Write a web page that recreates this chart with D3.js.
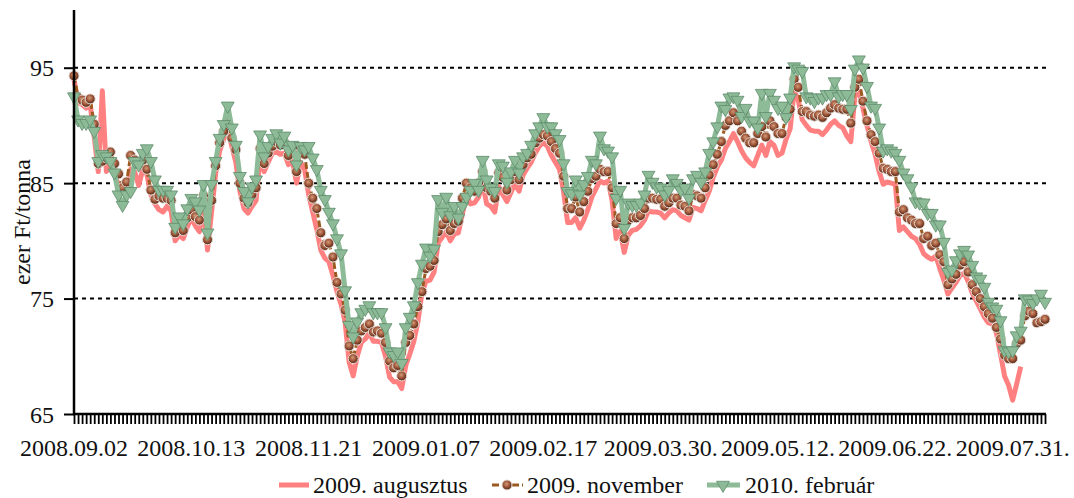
<!DOCTYPE html>
<html>
<head>
<meta charset="utf-8">
<script src="https://cdn.jsdelivr.net/npm/d3@7/dist/d3.min.js"></script>
<style>
  html, body { margin: 0; padding: 0; background: #fff; }
  svg { display: block; }
</style>
</head>
<body>
<svg id="chart" width="1074" height="498"></svg>
<script>
// ---- DATA ----
const tickLabels = ["2008.09.02", "2008.10.13", "2008.11.21", "2009.01.07", "2009.02.17",
                    "2009.03.30.", "2009.05.12.", "2009.06.22.", "2009.07.31."];
const labelEvery = 29;
const yTicks = [65, 75, 85, 95];
const seriesNames = ["2009. augusztus", "2009. november", "2010. február"];

const aug2009 = [
  94.0, 92.0, 91.8, 91.5, 91.8, 89.0, 86.0, 93.0, 86.0, 86.8,
  85.8, 84.8, 84.2, 84.5, 86.2, 86.0, 84.8, 86.2, 85.8, 84.0,
  83.2, 82.7, 82.5, 83.0, 82.6, 80.0, 80.5, 80.2, 81.2, 82.0,
  81.3, 80.8, 83.0, 79.2, 82.5, 85.8, 87.8, 88.8, 89.6, 88.2,
  86.8, 84.3, 82.8, 82.4, 83.0, 83.5, 87.3, 86.0, 86.8, 87.6,
  87.7, 87.5, 87.6, 86.6, 86.9, 85.0, 86.8, 86.2, 84.0, 82.5,
  81.0, 79.2, 78.5, 78.2, 77.0, 75.6, 74.5, 73.0, 69.5, 68.3,
  70.0, 71.2, 71.5, 72.0, 71.3, 71.3, 71.2, 70.0, 68.2, 67.8,
  67.8, 67.2, 69.2, 70.2, 71.3, 73.0, 75.5, 76.5, 76.6, 77.3,
  79.8, 80.3, 80.8, 80.0, 80.6, 80.7, 82.3, 84.0, 83.2, 83.3,
  83.8, 85.0, 83.2, 83.0, 82.5, 84.7, 84.0, 83.4, 84.2, 85.0,
  84.3, 85.7, 86.3, 86.8, 87.6, 88.2, 88.5, 88.2, 87.4, 86.8,
  86.2, 84.3, 81.6, 81.6, 82.0, 81.1, 81.8, 82.7, 83.8, 84.5,
  85.2, 85.0, 85.2, 83.5, 80.2, 80.8, 79.0, 80.5, 80.9, 81.0,
  81.3, 81.8, 82.6, 82.5, 82.5, 82.4, 82.0, 82.4, 82.7, 82.6,
  82.2, 82.0, 81.8, 82.9, 82.8, 82.6, 83.5, 84.3, 85.5, 86.4,
  87.0, 88.0, 88.6, 89.3, 88.6, 87.8, 87.2, 86.8, 86.5, 87.4,
  88.3, 87.4, 88.6, 88.3, 87.4, 87.6, 88.8, 89.7, 93.0, 92.2,
  90.5, 90.0, 89.6, 89.5, 89.5, 89.2, 89.6, 90.1, 90.4, 90.0,
  89.8, 89.1, 88.6, 92.5, 93.0, 91.5, 90.0, 88.6, 87.5, 86.0,
  84.9, 85.1, 85.0, 84.9, 80.9, 81.2, 80.8, 80.4, 80.2, 79.7,
  78.9, 78.6, 78.4, 78.7, 77.6, 76.6, 75.4, 75.9, 76.4, 77.0,
  77.2, 76.5, 75.5, 74.8, 74.1, 73.4, 72.9, 72.8, 72.0, 70.2,
  68.3, 67.5, 66.2, 67.6, 69.1, null, null, null, null, null, null
];

const nov2009 = [
  94.3, 92.4, 92.2, 92.0, 92.3, 90.1, 86.7, 86.9, 87.2, 87.7,
  86.7, 85.8, 84.6, 85.1, 87.4, 87.0, 86.6, 87.0, 86.2, 84.4,
  83.6, 83.9, 83.7, 83.7, 83.5, 80.7, 81.3, 80.9, 82.0, 82.7,
  82.1, 81.8, 83.9, 80.1, 83.5, 86.5, 88.5, 89.5, 90.3, 88.9,
  87.9, 85.0, 83.7, 83.3, 84.0, 84.6, 88.0, 86.7, 87.6, 88.2,
  88.6, 88.3, 88.5, 87.4, 88.1, 86.0, 87.6, 87.5, 85.0, 83.7,
  82.8, 80.7, 79.6, 79.8, 78.6, 76.4, 75.4, 74.0, 70.9, 69.8,
  71.4, 72.2, 72.5, 72.8, 72.1, 72.2, 72.0, 71.2, 69.6, 69.0,
  69.2, 68.3, 71.2, 71.8, 72.8, 74.3, 75.6, 77.6, 77.8, 78.3,
  80.8, 81.4, 81.9, 80.9, 81.5, 81.7, 83.7, 85.0, 84.6, 84.3,
  85.0, 86.0, 84.6, 84.3, 83.7, 85.9, 85.5, 84.4, 85.3, 86.0,
  85.3, 86.6, 87.2, 87.5, 88.5, 88.9, 89.2, 89.1, 88.6, 88.0,
  87.6, 85.6, 82.8, 82.8, 83.8, 82.5, 83.4, 84.3, 85.4, 85.6,
  86.2, 86.0, 86.0, 84.6, 81.5, 82.0, 80.2, 81.8, 82.0, 82.0,
  82.2, 82.8, 83.7, 83.7, 83.6, 83.6, 83.0, 83.3, 83.7, 83.7,
  83.1, 83.0, 82.6, 84.0, 83.9, 83.7, 84.6, 85.7, 86.6, 87.5,
  88.6, 90.0, 90.4, 91.1, 90.4, 89.5, 88.9, 88.5, 88.5, 89.3,
  89.9, 89.0, 90.4, 89.9, 89.3, 89.3, 90.7, 91.4, 94.0, 93.3,
  91.2, 91.2, 90.9, 90.8, 90.9, 90.7, 91.1, 91.5, 91.8, 91.5,
  91.4, 91.4, 90.2, 93.3, 94.0, 92.1, 90.4, 89.2, 88.6, 87.6,
  86.3, 86.2, 86.0, 86.0, 82.5, 82.7, 82.0, 81.8, 81.5, 81.5,
  80.2, 80.4, 79.6, 79.8, 78.8, 78.2, 76.2, 76.7, 77.1, 77.9,
  78.2, 77.3, 76.2, 75.6, 75.0, 74.3, 73.7, 73.3, 72.5, 71.5,
  70.1, 69.8, 69.8, 71.1, 71.4, 73.5, 73.9, 73.7, 72.9, 73.0, 73.2
];

const feb2010 = [
  92.5, 90.5, 90.2, 90.2, 90.5, 89.5, 86.9, 87.5, 87.3, 86.9,
  85.9, 84.0, 83.1, 84.0, 84.3, 86.9, 86.6, 87.6, 88.0, 86.9,
  85.3, 84.4, 84.4, 84.4, 84.0, 81.2, 82.1, 81.5, 82.8, 83.7,
  83.4, 82.7, 84.9, 80.7, 84.9, 86.9, 88.9, 90.1, 91.7, 89.8,
  88.3, 85.6, 84.3, 83.4, 84.7, 85.3, 89.2, 87.3, 88.2, 88.9,
  89.3, 88.5, 89.1, 87.9, 88.3, 86.6, 88.2, 87.9, 88.2, 87.2,
  86.2, 84.4, 83.6, 82.5, 81.5, 80.2, 78.9, 75.7, 72.7, 71.7,
  73.0, 73.8, 74.1, 74.4, 73.8, 73.8, 73.8, 72.5, 70.4, 70.1,
  70.4, 69.4, 72.5, 73.4, 74.4, 76.4, 78.0, 79.4, 78.7, 79.3,
  83.6, 82.5, 83.8, 82.2, 83.0, 82.0, 83.0, 83.8, 84.4, 85.0,
  84.4, 87.0, 85.3, 84.6, 84.3, 86.7, 86.5, 85.1, 86.0, 87.0,
  85.9, 87.3, 87.6, 88.3, 89.3, 89.9, 90.7, 89.9, 89.9, 89.3,
  88.8, 86.7, 84.3, 84.1, 85.3, 84.0, 84.9, 85.6, 87.0, 86.7,
  89.1, 88.0, 87.8, 87.3, 83.7, 84.4, 81.1, 83.3, 83.1, 83.1,
  83.3, 84.0, 85.7, 85.1, 84.7, 84.6, 84.0, 84.4, 85.4, 85.0,
  84.4, 84.6, 83.7, 85.4, 85.7, 85.1, 86.0, 87.6, 88.6, 89.9,
  91.7, 91.4, 92.4, 92.5, 92.2, 90.8, 91.5, 90.4, 90.4, 89.8,
  92.8, 90.8, 92.8, 92.2, 91.5, 91.7, 90.7, 92.4, 95.1, 94.9,
  94.7, 92.5, 92.4, 92.1, 92.4, 92.4, 92.7, 92.7, 93.8, 92.5,
  92.7, 92.7, 91.4, 94.9, 95.7, 95.0, 93.4, 91.7, 91.5, 89.8,
  87.8, 88.0, 87.8, 87.6, 87.0, 85.9, 85.4, 84.7, 83.4, 83.3,
  83.3, 82.4, 82.4, 81.4, 81.4, 79.9, 77.3, 77.5, 78.3, 78.9,
  79.2, 78.8, 77.9, 76.9, 76.7, 76.0, 74.7, 74.3, 74.1, 73.1,
  70.5, 70.4, 70.5, 71.8, 72.2, 75.0, 74.9, 74.6, 75.0, 75.4, 74.7
];

// ---- CHART ----
const svg = d3.select("#chart");
const plotL = 74, plotR = 1045, plotT = 10, plotB = 414;
const n = feb2010.length;
const SERIF = "Liberation Serif, Times New Roman, serif";
const FONT = 24;

const x = d3.scaleLinear().domain([0, n - 1]).range([plotL, plotR]);
const y = d3.scaleLinear().domain([65, 100]).range([plotB, plotT]);

// gridlines
svg.append("g").selectAll("line")
  .data(yTicks.filter(v => v > 65))
  .join("line")
  .attr("x1", plotL).attr("x2", plotR + 1)
  .attr("y1", d => y(d)).attr("y2", d => y(d))
  .attr("stroke", "#000").attr("stroke-width", 2)
  .attr("stroke-dasharray", "4,4");

// defs: gradient for november markers
const defs = svg.append("defs");
const rg = defs.append("radialGradient").attr("id", "ball")
  .attr("cx", "45%").attr("cy", "40%").attr("r", "60%");
rg.append("stop").attr("offset", "0%").attr("stop-color", "#d59a78");
rg.append("stop").attr("offset", "55%").attr("stop-color", "#9a5236");
rg.append("stop").attr("offset", "100%").attr("stop-color", "#4a2616");

const lineGen = arr => d3.line()
  .defined(d => d != null)
  .x((d, i) => x(i))
  .y(d => y(d))(arr);

// series 1: augusztus (pink thick line)
svg.append("path")
  .attr("d", lineGen(aug2009))
  .attr("fill", "none").attr("stroke", "#ff8080").attr("stroke-width", 5)
  .attr("stroke-linejoin", "round");

// series 2: november (dashed brown line + ball markers)
svg.append("path")
  .attr("d", lineGen(nov2009))
  .attr("fill", "none").attr("stroke", "#9c5a20").attr("stroke-width", 3)
  .attr("stroke-dasharray", "7,3");
svg.append("g").selectAll("circle")
  .data(nov2009.map((v, i) => [i, v]).filter(d => d[1] != null))
  .join("circle")
  .attr("cx", d => x(d[0])).attr("cy", d => y(d[1])).attr("r", 5)
  .attr("fill", "url(#ball)").attr("stroke", "#e8ddd6").attr("stroke-width", 1);

// series 3: február (green line + down triangles)
svg.append("path")
  .attr("d", lineGen(feb2010))
  .attr("fill", "none").attr("stroke", "#8dbb98").attr("stroke-width", 5)
  .attr("stroke-linejoin", "round");
const tri = d3.symbol().type(d3.symbolTriangle).size(72);
svg.append("g").selectAll("path")
  .data(feb2010.map((v, i) => [i, v]))
  .join("path")
  .attr("d", tri)
  .attr("transform", d => `translate(${x(d[0])},${y(d[1])}) rotate(180)`)
  .attr("fill", "#8dbb98").attr("stroke", "#5e8c6b").attr("stroke-width", 0.8);

// x axis: tick per category
const xAxis = d3.axisBottom(x)
  .tickValues(d3.range(0, n))
  .tickSize(10)
  .tickFormat("");
const gx = svg.append("g").attr("transform", `translate(0,${plotB})`).call(xAxis);
gx.select(".domain").remove();
gx.selectAll(".tick line").attr("stroke", "#000").attr("stroke-width", 1.8);
svg.append("line").attr("x1", plotL - 1).attr("x2", plotR + 1)
  .attr("y1", plotB).attr("y2", plotB)
  .attr("stroke", "#000").attr("stroke-width", 2.5);

// x labels
const labelIdx = tickLabels.map((t, k) => k * labelEvery);
svg.append("g").selectAll("text")
  .data(tickLabels)
  .join("text")
  .attr("x", (d, k) => x(labelIdx[k]))
  .attr("y", 456)
  .attr("text-anchor", "middle")
  .attr("font-family", SERIF)
  .attr("font-size", FONT)
  .attr("fill", "#111")
  .text(d => d);

// y axis
const yAxis = d3.axisLeft(y).tickValues(yTicks).tickSize(10).tickPadding(10)
  .tickFormat(d3.format("d"));
const gy = svg.append("g").attr("transform", `translate(${plotL},0)`).call(yAxis)
  .attr("font-family", SERIF).attr("font-size", FONT);
gy.select(".domain").remove();
gy.selectAll(".tick line").attr("stroke", "#000").attr("stroke-width", 2);
gy.selectAll(".tick text")
  .attr("font-size", FONT)
  .attr("font-family", SERIF)
  .attr("fill", "#111")
  .attr("dy", "0.34em")
  .attr("x", -20);
svg.append("line").attr("x1", plotL).attr("x2", plotL)
  .attr("y1", plotT).attr("y2", plotB + 1)
  .attr("stroke", "#000").attr("stroke-width", 2.5);

// y title
svg.append("text")
  .attr("transform", `translate(30,222) rotate(-90)`)
  .attr("text-anchor", "middle")
  .attr("font-family", SERIF)
  .attr("font-size", FONT)
  .attr("fill", "#111")
  .text("ezer Ft/tonna");

// legend
const ly = 485;
const lg = svg.append("g").attr("font-family", SERIF).attr("font-size", FONT).attr("fill", "#111");
lg.append("line").attr("x1", 279).attr("x2", 309).attr("y1", ly).attr("y2", ly)
  .attr("stroke", "#ff8080").attr("stroke-width", 5);
lg.append("text").attr("x", 313).attr("y", ly + 8).text(seriesNames[0]);
lg.append("line").attr("x1", 492).attr("x2", 523).attr("y1", ly).attr("y2", ly)
  .attr("stroke", "#9c5a20").attr("stroke-width", 3).attr("stroke-dasharray", "7,3");
lg.append("circle").attr("cx", 507).attr("cy", ly).attr("r", 5)
  .attr("fill", "url(#ball)").attr("stroke", "#e8ddd6").attr("stroke-width", 1);
lg.append("text").attr("x", 527).attr("y", ly + 8).text(seriesNames[1]);
lg.append("line").attr("x1", 707).attr("x2", 740).attr("y1", ly).attr("y2", ly)
  .attr("stroke", "#8dbb98").attr("stroke-width", 5);
lg.append("path").attr("d", tri)
  .attr("transform", `translate(723,${ly}) rotate(180)`)
  .attr("fill", "#8dbb98").attr("stroke", "#5e8c6b").attr("stroke-width", 0.8);
lg.append("text").attr("x", 745).attr("y", ly + 8).text(seriesNames[2]);
</script>
</body>
</html>
